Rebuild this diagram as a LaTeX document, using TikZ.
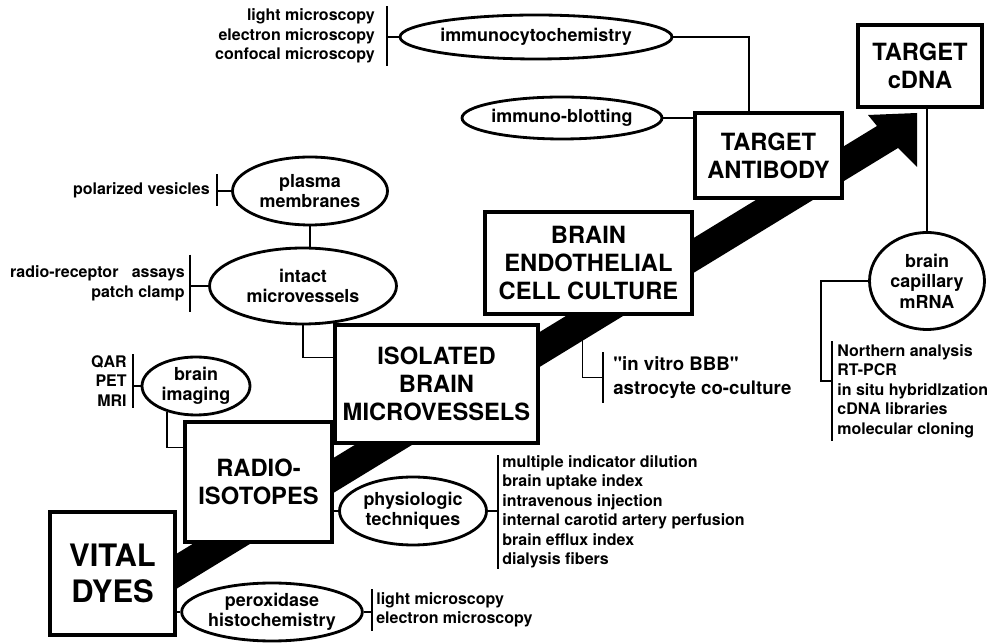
\documentclass[tikz,border=0pt]{standalone}
\usepackage{fontspec}
\setmainfont{TeX Gyre Heros}
\usetikzlibrary{shapes.geometric,calc}

\begin{document}
\begin{tikzpicture}[x=0.02cm,y=-0.02cm,
		bigbox/.style={draw,line width=1.8pt,fill=white,align=center,inner sep=0pt,font=\bfseries\fontsize{13.5}{15.9}\selectfont},
		oval/.style={ellipse,draw,line width=1.6pt,fill=white,align=center,inner sep=0pt,font=\bfseries\fontsize{10.2}{11.6}\selectfont},
		notes/.style={inner sep=0pt,font=\bfseries\fontsize{9.1}{11.1}\selectfont},
		link/.style={line width=0.8pt}]
		\useasboundingbox (0,0) rectangle (997,644);
		%\draw[help lines,step=1cm] (0,0) grid (997,644);

		% the big arrow
		\fill (150,605) -- (898,148) -- (917,167) -- (917,113) -- (868,115) -- (877,126) -- (150,570) -- cycle;

		\node[bigbox,minimum width=2.5cm,minimum height=2.46cm,font=\bfseries\fontsize{17.6}{20.5}\selectfont] (vital) at (112.5,573.5) {VITAL\\DYES};
		\node[bigbox,minimum width=2.94cm,minimum height=2.4cm] (radio) at (258.5,482) {RADIO-\\ISOTOPES};
		\node[bigbox,minimum width=4.06cm,minimum height=2.36cm] (isolated) at (436.5,384) {ISOLATED\\BRAIN\\MICROVESSELS};
		\node[bigbox,minimum width=4.14cm,minimum height=2.04cm] (bec) at (588.5,263) {BRAIN\\ENDOTHELIAL\\CELL CULTURE};
		\node[bigbox,minimum width=2.94cm,minimum height=1.7cm] (antibody) at (768.5,155.5) {TARGET\\ANTIBODY};
		\node[bigbox,minimum width=2.48cm,minimum height=1.64cm] (cdna) at (920,66) {TARGET\\cDNA};

		\node[oval,minimum width=5.44cm,minimum height=0.88cm] (immuno) at (536,37) {immunocytochemistry};
		\node[oval,minimum width=4cm,minimum height=0.84cm] (blot) at (562,118) {immuno-blotting};
		\node[oval,minimum width=3.1cm,minimum height=1.36cm] (plasma) at (310,191) {plasma\\membranes};
		\node[oval,minimum width=3.74cm,minimum height=1.52cm] (intact) at (303,286) {intact\\microvessels};
		\node[oval,minimum width=2.16cm,minimum height=1.16cm] (imaging) at (196,386) {brain\\imaging};
		\node[oval,minimum width=2.94cm,minimum height=1.36cm] (physio) at (413,511) {physiologic\\techniques};
		\node[oval,minimum width=3.2cm,minimum height=1.16cm] (perox) at (272,612) {peroxidase\\histochemistry};
		\node[oval,minimum width=2.3cm,minimum height=1.94cm] (mrna) at (927,281) {brain\\capillary\\mRNA};

		\node[notes,align=right,anchor=east,inner xsep=0.24cm,inner ysep=0.04cm] (imlist) at (387,36) {light microscopy\\electron microscopy\\confocal microscopy};
		\node[notes,align=right,anchor=east,inner xsep=0.14cm,inner ysep=0.15cm] (veslist) at (217,190) {polarized vesicles};
		\node[notes,align=right,anchor=east,inner xsep=0.1cm,inner ysep=0.22cm] (assaylist) at (190,283.5) {radio-receptor\ \ \ assays\\patch clamp};
		\node[notes,align=right,anchor=east,inner xsep=0.12cm,inner ysep=0.02cm] (scanlist) at (133,381) {QAR\\PET\\MRI};
		\node[notes,align=left,anchor=west,inner xsep=0.08cm] (physlist) at (498,512) {multiple indicator dilution\\brain uptake index\\intravenous injection\\internal carotid artery perfusion\\brain efflux index\\dialysis fibers};
		\node[notes,align=left,anchor=west,inner xsep=0.08cm,inner ysep=0.06cm] (peroxlist) at (372,610) {light microscopy\\electron microscopy};
		\node[notes,align=left,anchor=west,inner xsep=0.2cm,inner ysep=0.08cm,font=\bfseries\fontsize{10.6}{13.7}\selectfont] (vitrolist) at (603,377.5) {\textquotedbl in vitro BBB\textquotedbl\\astrocyte co-culture};
		\node[notes,align=left,anchor=west,inner xsep=0.1cm,inner ysep=0.05cm] (mrnalist) at (832,391) {Northern analysis\\RT-PCR\\in situ hybridlzation\\cDNA libraries\\molecular cloning};

		% links
		\draw[link] (immuno.east) -| ($(antibody.north west)!0.37!(antibody.north east)$);
		\draw[link] (blot.east) -- (blot.east -| antibody.west);
		\draw[link] (imlist.north east) -- (imlist.south east);
		\draw[link] (immuno.west) -- (immuno.west -| imlist.east);
		\draw[link] (veslist.north east) -- (veslist.south east);
		\draw[link] (plasma.west) -- (plasma.west -| veslist.east);
		\draw[link] (plasma.south) -- (plasma.south |- intact.north);
		\draw[link] (assaylist.north east) -- (assaylist.south east);
		\draw[link] (intact.west) -- (intact.west -| assaylist.east);
		\draw[link] (intact.south) |- ($(isolated.north west)!0.28!(isolated.south west)$);
		\draw[link] (scanlist.north east) -- (scanlist.south east);
		\draw[link] (imaging.west) -- (imaging.west -| scanlist.east);
		\draw[link] (imaging.222) |- ($(radio.north west)!0.22!(radio.south west)$);
		\draw[link] (physio.west) -- (physio.west -| radio.east);
		\draw[link] (physlist.north west) -- (physlist.south west);
		\draw[link] (physio.east) -- (physio.east -| physlist.west);
		\draw[link] (perox.west) -- (perox.west -| vital.east);
		\draw[link] (peroxlist.north west) -- (peroxlist.south west);
		\draw[link] (perox.east) -- (perox.east -| peroxlist.west);
		\draw[link] ($(bec.south west)!0.47!(bec.south east)$) |- (vitrolist.west);
		\draw[link] (vitrolist.north west) -- (vitrolist.south west);
		\draw[link] (mrna.north |- cdna.south) -- (mrna.north);
		\draw[link] (mrna.west) -- ++(-47,0) |- ($(mrnalist.north west)!0.4!(mrnalist.south west)$);
		\draw[link] (mrnalist.north west) -- (mrnalist.south west);
	\end{tikzpicture}
\end{document}
